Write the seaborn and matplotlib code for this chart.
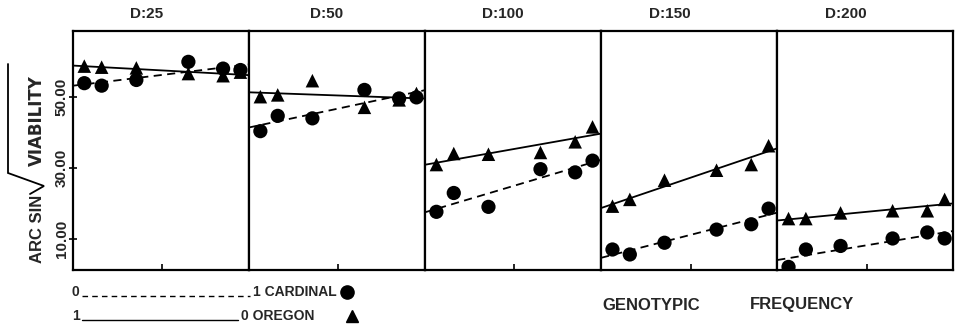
import matplotlib
matplotlib.use("Agg")
import matplotlib.pyplot as plt
from matplotlib.lines import Line2D
import seaborn as sns
import numpy as np
import pandas as pd

# ---- data ----
panels = ["D:25", "D:50", "D:100", "D:150", "D:200"]
freq = [0.05, 0.15, 0.35, 0.65, 0.85, 0.95]
cardinal = {
    "D:25":  [53.9, 53.2, 54.8, 59.9, 58.0, 57.6],
    "D:50":  [40.4, 44.7, 44.0, 52.0, 49.6, 49.9],
    "D:100": [17.7, 23.0, 19.1, 29.7, 28.8, 32.1],
    "D:150": [7.1, 5.7, 9.0, 12.7, 14.2, 18.6],
    "D:200": [2.2, 7.1, 8.1, 10.2, 11.9, 10.2],
}
oregon = {
    "D:25":  [58.7, 58.4, 58.2, 56.6, 56.0, 57.0],
    "D:50":  [50.1, 50.6, 54.6, 47.1, 49.2, 51.0],
    "D:100": [31.0, 34.1, 33.9, 34.4, 37.4, 41.6],
    "D:150": [19.3, 21.2, 26.6, 29.4, 31.0, 36.3],
    "D:200": [15.8, 15.8, 17.4, 18.0, 18.0, 21.2],
}
yticks = [10, 30, 50]
ytick_labels = ["10.00", "30.00", "50.00"]
title_x = [0.418, 0.44, 0.44, 0.39, 0.392]

sns.set_theme(style="white")
plt.rcParams["font.family"] = ["Liberation Sans", "DejaVu Sans"]

fig = plt.figure(figsize=(9.61, 3.29), dpi=100)
gs = fig.add_gridspec(1, 5, left=0.076, right=0.992, top=0.906, bottom=0.179, wspace=0)
axes = [fig.add_subplot(gs[0, i]) for i in range(5)]

for i, (ax, name) in enumerate(zip(axes, panels)):
    ax.set_xlim(-0.015, 1.0)
    ax.set_ylim(1.3, 68.6)
    df = pd.DataFrame({"freq": freq, "card": cardinal[name], "oreg": oregon[name]})
    sns.regplot(data=df, x="freq", y="card", ax=ax, ci=None, truncate=False,
                marker="o", color="black",
                scatter_kws=dict(s=105, edgecolor="none", alpha=1, zorder=3),
                line_kws=dict(lw=1.3, ls=(0, (4.5, 3)), zorder=2))
    sns.regplot(data=df, x="freq", y="oreg", ax=ax, ci=None, truncate=False,
                marker="^", color="black",
                scatter_kws=dict(s=95, edgecolor="none", alpha=1, zorder=3),
                line_kws=dict(lw=1.3, ls="-", zorder=2))
    ax.set_xlim(-0.015, 1.0)
    ax.set_ylim(1.3, 68.6)
    ax.set_xlabel("")
    ax.set_ylabel("")
    ax.set_title(name, fontsize=11, fontweight="bold", pad=9, x=title_x[i])
    ax.set_xticks([0.5])
    ax.set_xticklabels([])
    ax.tick_params(axis="x", direction="in", length=4, width=1.2, color="black", bottom=True)
    for sp in ax.spines.values():
        sp.set_visible(True)
        sp.set_color("black")
        sp.set_linewidth(1.6)
    if i == 0:
        ax.set_yticks(yticks)
        ax.set_yticklabels(ytick_labels, rotation=90, va="center",
                           fontsize=11, fontweight="bold")
        ax.tick_params(axis="y", direction="inout", length=6, width=1.2,
                       color="black", left=True, pad=0)
    else:
        ax.set_yticks([])

fw, fh = 961.0, 329.0
def fx(px):
    return px / fw
def fy(py):
    return 1 - py / fh

# y-axis label: ARC SIN sqrt(VIABILITY)
fig.text(fx(37), fy(229), "ARC SIN", rotation=90, fontsize=12, fontweight="bold",
         ha="center", va="center")
fig.text(fx(37), fy(121), "VIABILITY", rotation=90, fontsize=12, fontweight="bold",
         ha="center", va="center", family=["DejaVu Sans"])
fig.add_artist(Line2D([fx(8), fx(8), fx(44), fx(30)],
                      [fy(64), fy(173), fy(186), fy(194)],
                      color="black", lw=1.3, solid_joinstyle="miter"))

# legend below
r1, r2 = 292, 316
fig.text(fx(72), fy(r1), "0", fontsize=10, fontweight="bold", va="center", ha="left")
fig.add_artist(Line2D([fx(82), fx(250)], [fy(r1 + 4), fy(r1 + 4)], color="black",
                      lw=1.0, ls=(0, (4, 3))))
fig.text(fx(253), fy(r1), "1 CARDINAL", fontsize=10, fontweight="bold", va="center", ha="left")
fig.add_artist(Line2D([fx(347)], [fy(r1)], marker="o", markersize=9.5, color="black", ls="none"))

fig.text(fx(72), fy(r2), "1", fontsize=10, fontweight="bold", va="center", ha="left")
fig.add_artist(Line2D([fx(82), fx(238)], [fy(r2 + 4), fy(r2 + 4)], color="black", lw=1.0))
fig.text(fx(241), fy(r2), "0 OREGON", fontsize=10, fontweight="bold", va="center", ha="left")
fig.add_artist(Line2D([fx(352)], [fy(r2)], marker="^", markersize=8.5, color="black", ls="none"))

fig.text(fx(602), fy(305), "GENOTYPIC", fontsize=12, fontweight="bold", va="center", ha="left")
fig.text(fx(750), fy(305), "FREQUENCY", fontsize=12, fontweight="bold", va="center", ha="left")

fig.savefig("out.png", dpi=100)
